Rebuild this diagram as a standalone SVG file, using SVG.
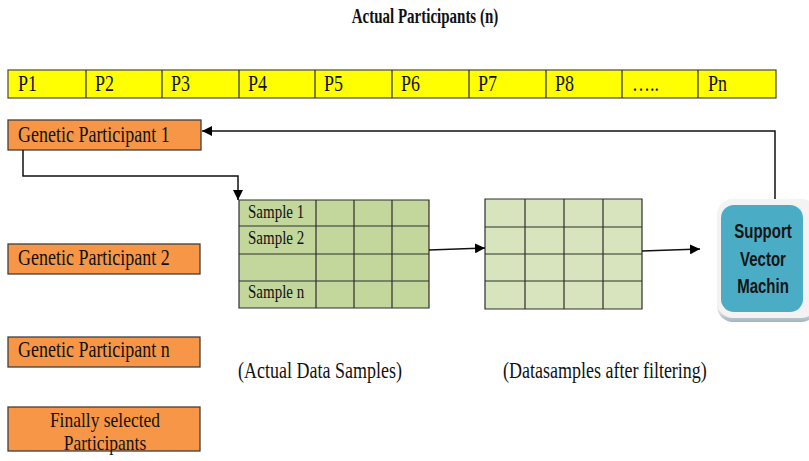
<svg xmlns="http://www.w3.org/2000/svg" width="809" height="461" viewBox="0 0 809 461">
<defs>
<style>
.t{font-family:"Liberation Serif","Times New Roman",serif;font-size:18px;fill:#111}
.ts{font-family:"Liberation Serif","Times New Roman",serif;font-size:15px;fill:#111}
.title{font-family:"Liberation Serif","Times New Roman",serif;font-size:15px;font-weight:bold;fill:#111}
.svm{font-family:"Liberation Sans",Arial,sans-serif;font-size:15px;font-weight:bold;fill:#151515}
.yel{fill:#FFFF00;stroke:#555;stroke-width:1.3}
.org{fill:#F79646;stroke:#404040;stroke-width:1.3}
.g1{fill:#C3D69B}
.g2{fill:#D7E4BD}
.grid{stroke:#2e2e2e;stroke-width:1.2;fill:none}
.con{stroke:#111;stroke-width:1.5;fill:none}
</style>
<marker id="arr" viewBox="0 0 10 10" refX="10" refY="5" markerWidth="10" markerHeight="10" markerUnits="userSpaceOnUse" orient="auto">
<path d="M0,0 L10,5 L0,10 z" fill="#000"/>
</marker>
<linearGradient id="frame" x1="0" y1="0" x2="0" y2="1">
<stop offset="0" stop-color="#f6f6f6"/>
<stop offset="0.9" stop-color="#e8e8e8"/>
<stop offset="1" stop-color="#9fb4bd"/>
</linearGradient>
</defs>

<g id="title">
<text class="title" text-anchor="middle" transform="translate(425,23) scale(1,1.4)">Actual Participants (n)</text>
</g>

<g id="participants-bar">
<rect class="yel" x="8" y="70" width="768" height="28"/>
<path class="grid" stroke="#555" d="M86,70V98M162,70V98M239,70V98M315,70V98M392,70V98M469,70V98M546,70V98M622,70V98M698,70V98"/>
<text class="t" transform="translate(18,91) scale(1,1.33)">P1</text>
<text class="t" transform="translate(95,91) scale(1,1.33)">P2</text>
<text class="t" transform="translate(171,91) scale(1,1.33)">P3</text>
<text class="t" transform="translate(248,91) scale(1,1.33)">P4</text>
<text class="t" transform="translate(324,91) scale(1,1.33)">P5</text>
<text class="t" transform="translate(401,91) scale(1,1.33)">P6</text>
<text class="t" transform="translate(478,91) scale(1,1.33)">P7</text>
<text class="t" transform="translate(555,91) scale(1,1.33)">P8</text>
<text class="t" transform="translate(632,91) scale(1,1.33)">…..</text>
<text class="t" transform="translate(708,91) scale(1,1.33)">Pn</text>
</g>

<g id="gp1">
<rect class="org" x="8" y="120" width="193" height="30"/>
<text class="t" transform="translate(18,142) scale(1,1.33)">Genetic Participant 1</text>
</g>
<g id="gp2">
<rect class="org" x="8" y="244" width="192" height="30"/>
<text class="t" transform="translate(18,265) scale(1,1.33)">Genetic Participant 2</text>
</g>
<g id="gpn">
<rect class="org" x="8" y="337" width="192" height="30"/>
<text class="t" transform="translate(18,357) scale(1,1.33)">Genetic Participant n</text>
</g>
<g id="final">
<rect class="org" x="8" y="407" width="192" height="44"/>
<text class="t" style="font-size:17.5px" text-anchor="middle" transform="translate(105,427) scale(1,1.2)">Finally selected</text>
<text class="t" style="font-size:17.5px" text-anchor="middle" transform="translate(105,450) scale(1,1.2)">Participants</text>
</g>

<g id="actual-samples">
<rect class="g1" x="239" y="200" width="190" height="108"/>
<path class="grid" d="M239,200H429V308H239Z M316,200V308M354,200V308M392,200V308 M239,226H429M239,254H429M239,281H429"/>
<text class="ts" transform="translate(248,218) scale(1,1.3)">Sample 1</text>
<text class="ts" transform="translate(248,244) scale(1,1.3)">Sample 2</text>
<text class="ts" transform="translate(248,298) scale(1,1.3)">Sample n</text>
</g>

<g id="filtered-samples">
<rect class="g2" x="485" y="199" width="157" height="110"/>
<path class="grid" d="M485,199H642V309H485Z M525,199V309M564,199V309M603,199V309 M485,227H642M485,254H642M485,281H642"/>
</g>

<g id="svm">
<rect x="717" y="199" width="100" height="123" rx="16" fill="url(#frame)"/>
<rect x="717" y="199" width="100" height="119" rx="16" fill="#f3f3f3"/>
<rect x="721" y="205" width="82" height="107" rx="13" fill="#4BACC6"/>
<text class="svm" text-anchor="middle" transform="translate(763,238) scale(1,1.4)">Support</text>
<text class="svm" text-anchor="middle" transform="translate(763,266) scale(1,1.4)">Vector</text>
<text class="svm" text-anchor="middle" transform="translate(763,293) scale(1,1.4)">Machin</text>
</g>

<g id="labels">
<text class="t" transform="translate(238,378) scale(1,1.26)">(Actual Data Samples)</text>
<text class="t" transform="translate(503,378) scale(1,1.26)">(Datasamples after filtering)</text>
</g>

<g id="connectors">
<path class="con" d="M23,150V176H238V200" marker-end="url(#arr)"/>
<path class="con" d="M429,250L485,248" marker-end="url(#arr)"/>
<path class="con" d="M642,251L700,249" marker-end="url(#arr)"/>
<path class="con" d="M775,199V131H202" marker-end="url(#arr)"/>
</g>
</svg>
